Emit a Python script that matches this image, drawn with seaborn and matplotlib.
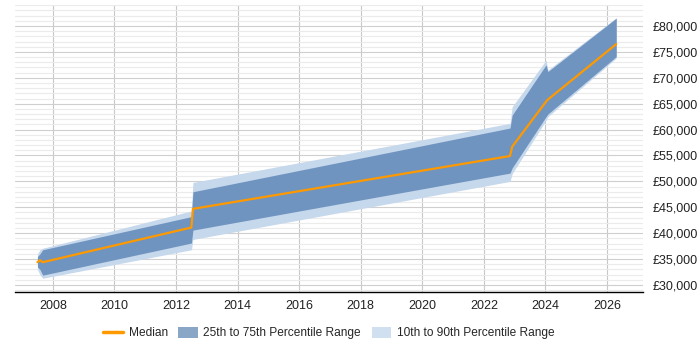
import numpy as np
import pandas as pd
import seaborn as sns
import matplotlib.pyplot as plt
from matplotlib.ticker import FuncFormatter, MultipleLocator
from matplotlib.patches import Patch
from matplotlib.lines import Line2D

# Data
years = [2007.5, 2007.58, 2007.67, 2012.5, 2012.55, 2022.85, 2022.92, 2024.02, 2024.08, 2026.3]
median = [34400, 34800, 34400, 41100, 44700, 54900, 56700, 65400, 65800, 76500]
p25 = [33500, 33000, 31900, 38100, 40600, 51600, 52600, 62500, 63000, 74100]
p75 = [35500, 36000, 36800, 43200, 48000, 60300, 62800, 72500, 71200, 81500]
p10 = [33000, 32000, 31300, 36800, 38800, 50000, 51500, 61800, 62500, 73800]
p90 = [36000, 36800, 37100, 44300, 49800, 61200, 64400, 73400, 71500, 81600]

df = pd.DataFrame({"year": years, "median": median,
                   "p10": p10, "p25": p25, "p75": p75, "p90": p90})

sns.set_style("white")
plt.rcParams['font.family'] = ['Liberation Sans', 'DejaVu Sans']

fig = plt.figure(figsize=(7, 3.5), dpi=100)
ax = fig.add_axes([0.0214, 0.1657, 0.8972, 0.82])

light = "#c6d8ec"
dark = "#6f94bf"
orange = "#ff9900"

ax.fill_between(df["year"], df["p10"], df["p90"], color=light, linewidth=0, zorder=2)
ax.fill_between(df["year"], df["p25"], df["p75"], color=dark, linewidth=0, zorder=3)
sns.lineplot(data=df, x="year", y="median", color=orange, linewidth=1.6, ax=ax, zorder=4)

ax.set_xlim(2006.77, 2027.17)
ax.set_ylim(28650, 84050)

ax.xaxis.set_major_locator(MultipleLocator(2))
ax.yaxis.set_major_locator(MultipleLocator(5000))
ax.yaxis.set_minor_locator(MultipleLocator(1000))
ax.yaxis.set_major_formatter(FuncFormatter(lambda v, p: f"£{int(v):,}"))
ax.yaxis.tick_right()

ax.grid(which="major", axis="x", color="#c8c8c8", linewidth=0.8, zorder=0)
ax.grid(which="major", axis="y", color="#cfcfcf", linewidth=0.8, zorder=0)
ax.grid(which="minor", axis="y", color="#ebebeb", linewidth=0.8, zorder=0)
ax.set_axisbelow(True)

for s in ["top", "left", "right"]:
    ax.spines[s].set_visible(False)
ax.spines["bottom"].set_color("black")
ax.spines["bottom"].set_linewidth(1)

ax.tick_params(axis="both", which="both", length=0, labelsize=9, colors="#222222")
ax.tick_params(axis="x", pad=6)
ax.tick_params(axis="y", pad=7)
ax.set_xlabel("")
ax.set_ylabel("")

handles = [Line2D([0], [0], color=orange, linewidth=2.5),
           Patch(facecolor="#8aa6c7", edgecolor="none"),
           Patch(facecolor="#d0e0f0", edgecolor="none")]
labels = ["Median", "25th to 75th Percentile Range", "10th to 90th Percentile Range"]
fig.legend(handles, labels, loc="center", bbox_to_anchor=(0.47, 0.048), ncol=3,
           frameon=False, fontsize=8.6, handlelength=1.6, handleheight=1.0,
           columnspacing=0.9, handletextpad=0.5)

fig.savefig("out.png", dpi=100)
